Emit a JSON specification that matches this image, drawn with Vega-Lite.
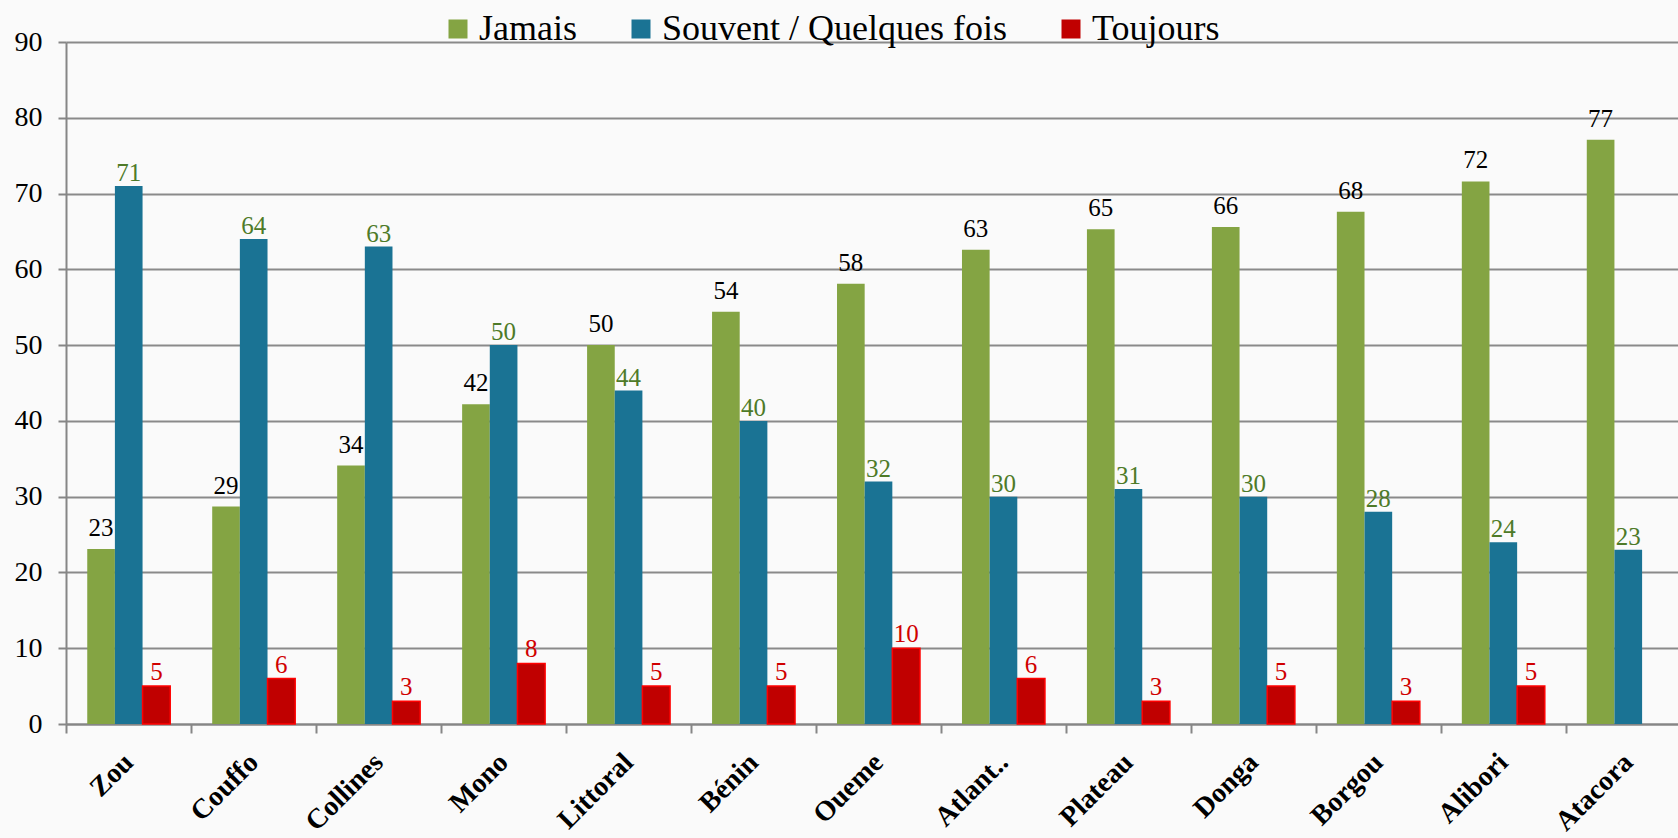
{
  "$schema": "https://vega.github.io/schema/vega-lite/v6.json",
  "width": 1625,
  "height": 682,
  "autosize": {"type": "none"},
  "padding": {"left": 66, "top": 42, "right": 0, "bottom": 114},
  "background": "#FAFAFA",
  "config": {
    "font": "Liberation Serif",
    "view": {"stroke": null},
    "axis": {"labelFont": "Liberation Serif", "titleFont": "Liberation Serif"}
  },
  "data": {
    "values": [
      {"region": "Zou", "series": "Jamais", "value": 23.1},
      {"region": "Zou", "series": "Souvent / Quelques fois", "value": 71},
      {"region": "Zou", "series": "Toujours", "value": 5},
      {"region": "Couffo", "series": "Jamais", "value": 28.7},
      {"region": "Couffo", "series": "Souvent / Quelques fois", "value": 64},
      {"region": "Couffo", "series": "Toujours", "value": 6},
      {"region": "Collines", "series": "Jamais", "value": 34.1},
      {"region": "Collines", "series": "Souvent / Quelques fois", "value": 63},
      {"region": "Collines", "series": "Toujours", "value": 3},
      {"region": "Mono", "series": "Jamais", "value": 42.2},
      {"region": "Mono", "series": "Souvent / Quelques fois", "value": 50},
      {"region": "Mono", "series": "Toujours", "value": 8},
      {"region": "Littoral", "series": "Jamais", "value": 50},
      {"region": "Littoral", "series": "Souvent / Quelques fois", "value": 44},
      {"region": "Littoral", "series": "Toujours", "value": 5},
      {"region": "Bénin", "series": "Jamais", "value": 54.4},
      {"region": "Bénin", "series": "Souvent / Quelques fois", "value": 40},
      {"region": "Bénin", "series": "Toujours", "value": 5},
      {"region": "Oueme", "series": "Jamais", "value": 58.1},
      {"region": "Oueme", "series": "Souvent / Quelques fois", "value": 32},
      {"region": "Oueme", "series": "Toujours", "value": 10},
      {"region": "Atlant..", "series": "Jamais", "value": 62.6},
      {"region": "Atlant..", "series": "Souvent / Quelques fois", "value": 30},
      {"region": "Atlant..", "series": "Toujours", "value": 6},
      {"region": "Plateau", "series": "Jamais", "value": 65.3},
      {"region": "Plateau", "series": "Souvent / Quelques fois", "value": 31},
      {"region": "Plateau", "series": "Toujours", "value": 3},
      {"region": "Donga", "series": "Jamais", "value": 65.6},
      {"region": "Donga", "series": "Souvent / Quelques fois", "value": 30},
      {"region": "Donga", "series": "Toujours", "value": 5},
      {"region": "Borgou", "series": "Jamais", "value": 67.6},
      {"region": "Borgou", "series": "Souvent / Quelques fois", "value": 28},
      {"region": "Borgou", "series": "Toujours", "value": 3},
      {"region": "Alibori", "series": "Jamais", "value": 71.6},
      {"region": "Alibori", "series": "Souvent / Quelques fois", "value": 24},
      {"region": "Alibori", "series": "Toujours", "value": 5},
      {"region": "Atacora", "series": "Jamais", "value": 77.1},
      {"region": "Atacora", "series": "Souvent / Quelques fois", "value": 23}
    ]
  },
  "encoding": {
    "x": {
      "field": "region", "type": "nominal", "sort": null,
      "scale": {"paddingInner": 0.336, "paddingOuter": 0.17},
      "axis": {
        "title": null, "labelAngle": -45, "labelAlign": "right", "labelBaseline": "middle",
        "labelFontSize": 28, "labelFontWeight": "bold", "labelColor": "#000000",
        "labelPadding": 25, "tickOffset": -62.5, "labelOffset": 62.5,
        "tickSize": 9, "tickColor": "#868686",
        "tickWidth": 2, "domainColor": "#868686", "domainWidth": 2, "grid": false
      }
    },
    "xOffset": {"field": "series", "type": "nominal", "sort": ["Jamais", "Souvent / Quelques fois", "Toujours"]},
    "y": {
      "field": "value", "type": "quantitative",
      "scale": {"domain": [0, 90], "nice": false},
      "axis": {
        "title": null, "values": [0, 10, 20, 30, 40, 50, 60, 70, 80, 90],
        "labelFontSize": 28, "labelColor": "#000000", "labelPadding": 16,
        "tickSize": 8, "tickColor": "#868686", "tickWidth": 2,
        "domainColor": "#868686", "domainWidth": 2,
        "grid": true, "gridColor": "#8A8A8A", "gridWidth": 2
      }
    }
  },
  "layer": [
    {
      "mark": {"type": "bar", "strokeWidth": 1.5},
      "encoding": {
        "color": {
          "field": "series", "type": "nominal",
          "scale": {"domain": ["Jamais", "Souvent / Quelques fois", "Toujours"], "range": ["#84A443", "#1A7394", "#C00000"]},
          "legend": {
            "title": null, "orient": "none", "direction": "horizontal",
            "legendX": 374, "legendY": -31, "padding": 0,
            "labelFontSize": 36, "labelFont": "Liberation Serif", "labelColor": "#000000",
            "symbolType": "square", "symbolSize": 361, "symbolStrokeWidth": 0,
            "columnPadding": 46, "labelOffset": 3, "labelLimit": 0,
            "encode": {"symbols": {"update": {
              "stroke": {"signal": "datum.value === 'Toujours' ? '#FF0000' : 'transparent'"},
              "strokeWidth": {"value": 1.5}
            }}}
          }
        },
        "stroke": {"condition": {"test": "datum.series === 'Toujours'", "value": "#FF0000"}, "value": null}
      }
    },
    {
      "transform": [{"filter": "datum.series === 'Jamais'"}],
      "mark": {"type": "text", "baseline": "alphabetic", "dy": -13, "fontSize": 25, "color": "#000000"},
      "encoding": {"text": {"field": "value", "type": "quantitative", "format": ".0f"}}
    },
    {
      "transform": [{"filter": "datum.series === 'Souvent / Quelques fois'"}],
      "mark": {"type": "text", "baseline": "alphabetic", "dy": -5, "fontSize": 25, "color": "#4E7A28"},
      "encoding": {"text": {"field": "value", "type": "quantitative", "format": ".0f"}}
    },
    {
      "transform": [{"filter": "datum.series === 'Toujours'"}],
      "mark": {"type": "text", "baseline": "alphabetic", "dy": -6, "fontSize": 25, "color": "#D00000"},
      "encoding": {"text": {"field": "value", "type": "quantitative", "format": ".0f"}}
    }
  ]
}
